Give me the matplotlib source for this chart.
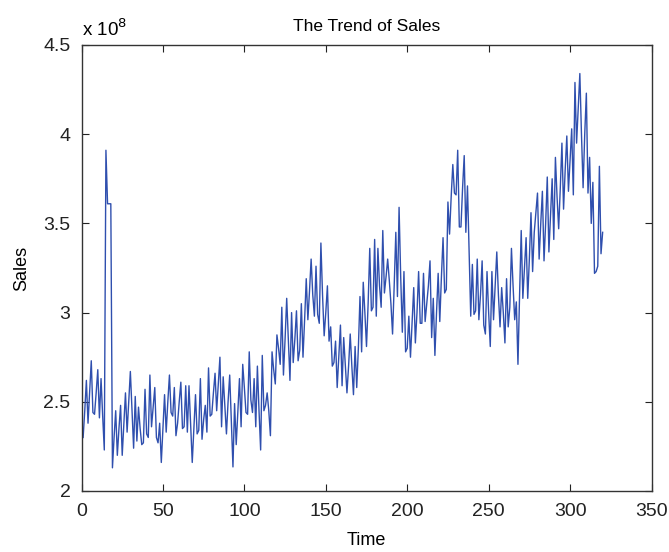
import matplotlib
matplotlib.use("Agg")
import matplotlib.pyplot as plt
import numpy as np

plt.rcParams['font.family'] = ['Liberation Sans', 'DejaVu Sans']

# Sales in units of 1e8, time steps 1..320
sales = [
    2.30, 2.45, 2.62, 2.38, 2.55, 2.73, 2.44, 2.43, 2.55, 2.68,
    2.41, 2.63, 2.42, 2.23, 3.91, 3.61, 3.61, 3.61, 2.13, 2.30,
    2.45, 2.20, 2.35, 2.48, 2.20, 2.38, 2.55, 2.33, 2.50, 2.67,
    2.45, 2.24, 2.53, 2.28, 2.47, 2.35, 2.26, 2.27, 2.57, 2.32,
    2.30, 2.65, 2.36, 2.47, 2.58, 2.30, 2.27, 2.38, 2.16, 2.35,
    2.54, 2.33, 2.50, 2.65, 2.44, 2.42, 2.58, 2.31, 2.38, 2.50,
    2.61, 2.35, 2.36, 2.59, 2.33, 2.59, 2.38, 2.16, 2.35, 2.54,
    2.32, 2.34, 2.63, 2.29, 2.40, 2.48, 2.33, 2.69, 2.42, 2.43,
    2.55, 2.66, 2.45, 2.60, 2.75, 2.36, 2.64, 2.48, 2.32, 2.50,
    2.65, 2.40, 2.135, 2.49, 2.26, 2.45, 2.63, 2.36, 2.71, 2.58,
    2.44, 2.43, 2.78, 2.51, 2.44, 2.63, 2.36, 2.70, 2.45, 2.23,
    2.76, 2.45, 2.48, 2.55, 2.45, 2.31, 2.78, 2.68, 2.60, 2.875,
    2.80, 2.71, 3.03, 2.65, 2.85, 3.08, 2.85, 2.62, 3.00, 2.72,
    2.85, 3.01, 2.73, 2.79, 3.05, 2.75, 2.96, 3.19, 2.96, 3.12,
    3.30, 3.10, 2.98, 3.26, 2.99, 2.94, 3.39, 3.10, 2.87, 3.00,
    3.15, 2.84, 2.92, 2.70, 2.72, 2.84, 2.58, 2.75, 2.93, 2.59,
    2.86, 2.70, 2.55, 2.70, 2.88, 2.70, 2.54, 2.81, 2.58, 2.80,
    3.09, 2.78, 3.17, 3.00, 2.81, 3.05, 3.36, 3.01, 3.03, 3.41,
    2.98, 3.36, 3.15, 3.03, 3.46, 3.11, 3.20, 3.30, 3.18, 3.05,
    2.88, 3.15, 3.45, 3.09, 3.59, 3.20, 2.89, 3.23, 2.78, 2.80,
    2.98, 2.75, 2.95, 3.14, 2.83, 3.00, 3.23, 2.94, 2.94, 3.22,
    2.95, 3.05, 3.15, 3.29, 2.86, 3.08, 2.76, 3.00, 3.22, 2.95,
    3.20, 3.42, 3.11, 3.13, 3.62, 3.44, 3.65, 3.83, 3.67, 3.66,
    3.91, 3.48, 3.48, 3.70, 3.88, 3.45, 3.71, 3.35, 2.98, 3.27,
    2.99, 3.01, 3.30, 2.96, 3.10, 3.29, 2.93, 2.88, 3.23, 3.00,
    2.81, 3.23, 2.96, 3.15, 3.34, 3.10, 2.92, 3.14, 3.00, 2.83,
    3.19, 2.92, 3.03, 3.36, 3.15, 2.96, 3.06, 2.71, 3.10, 3.46,
    3.08, 3.25, 3.42, 3.08, 3.30, 3.56, 3.23, 3.45, 3.56, 3.67,
    3.30, 3.50, 3.68, 3.29, 3.50, 3.76, 3.34, 3.55, 3.75, 3.41,
    3.87, 3.65, 3.47, 3.70, 3.95, 3.58, 3.80, 3.99, 3.68, 3.85,
    4.03, 3.66, 4.29, 3.95, 4.15, 4.34, 4.00, 3.70, 4.00, 4.23,
    3.67, 3.87, 3.50, 3.73, 3.22, 3.23, 3.26, 3.82, 3.33, 3.45,
]
time = list(range(1, len(sales) + 1))

x_ticks = [0, 50, 100, 150, 200, 250, 300, 350]
y_ticks = [2, 2.5, 3, 3.5, 4, 4.5]
y_tick_labels = ['2', '2.5', '3', '3.5', '4', '4.5']

fig = plt.figure(figsize=(6.69, 5.52), dpi=100)
left, right, bottom, top = 81.5 / 669, 651.5 / 669, 1 - 491 / 552, 1 - 45 / 552
ax = fig.add_axes([left, bottom, right - left, top - bottom])

ax.plot(time, sales, color='#2f4fae', linewidth=1.0)

ax.set_xlim(0, 350)
ax.set_ylim(2, 4.5)
ax.set_xticks(x_ticks)
ax.set_xticklabels([str(t) for t in x_ticks])
ax.set_yticks(y_ticks)
ax.set_yticklabels(y_tick_labels)

ax.tick_params(direction='in', top=True, right=True, length=5, width=0.8,
               labelsize=14, colors='#222222')
ax.tick_params(axis='x', pad=9)
ax.tick_params(axis='y', pad=8)
for s in ax.spines.values():
    s.set_color('#333333')
    s.set_linewidth(1.0)

ax.set_title('The Trend of Sales', fontsize=12.5, pad=10)
ax.set_xlabel('Time', fontsize=13, labelpad=8)
ax.set_ylabel('Sales', fontsize=13, labelpad=9)

ax.text(0.0, 1.012, r'x 10$^{8}$', transform=ax.transAxes, fontsize=13.5,
        ha='left', va='bottom')

fig.savefig('out.png', dpi=100)
